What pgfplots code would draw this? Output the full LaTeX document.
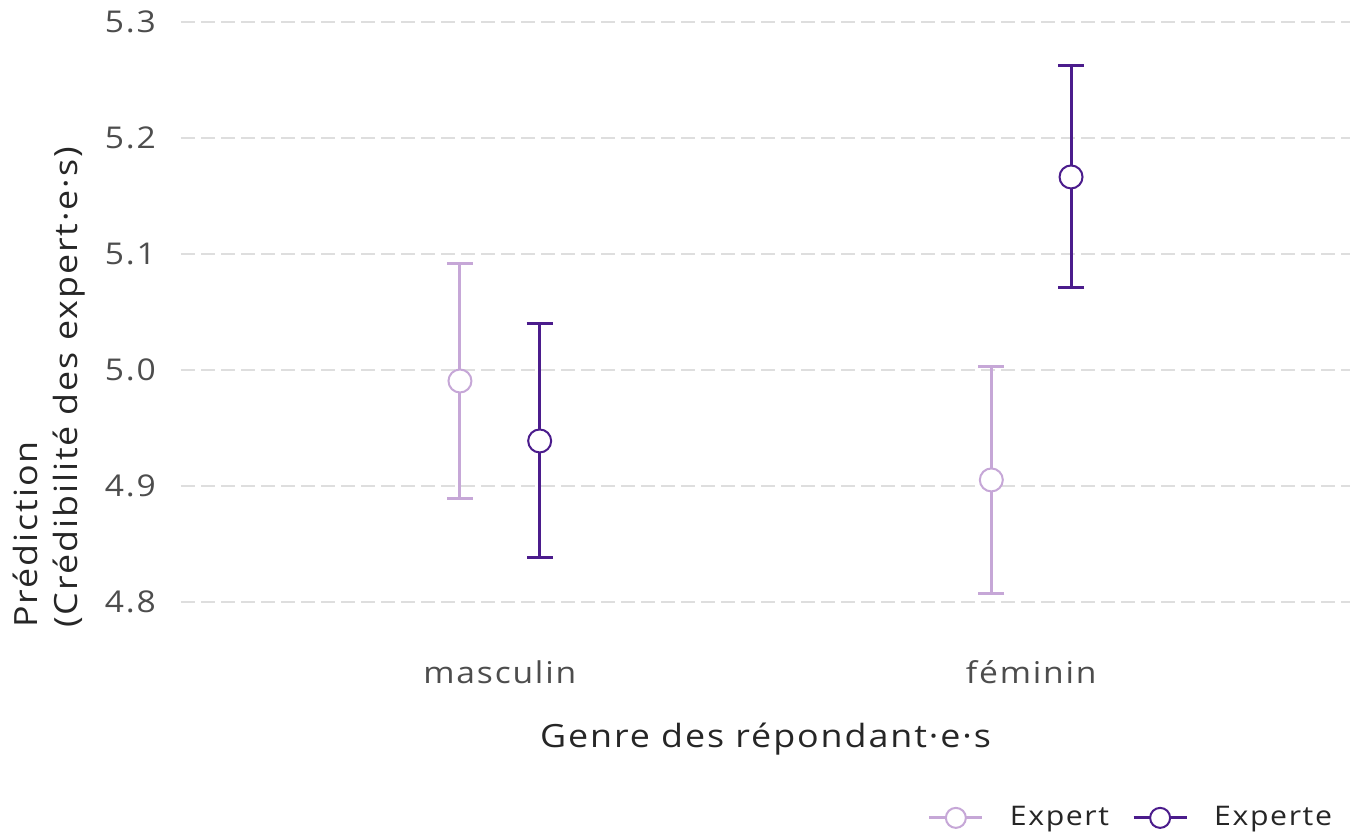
\documentclass[border=0pt]{standalone}
\usepackage{fontspec}
\setmainfont{Open Sans}[FakeStretch=1.12, LetterSpace=6]
\usepackage{pgfplots}
\pgfplotsset{compat=1.18}
\definecolor{cexpert}{RGB}{198,167,215}
\definecolor{cexperte}{RGB}{75,28,140}
\definecolor{ctick}{RGB}{77,77,77}
\definecolor{cgrid}{RGB}{222,222,222}
\begin{document}
\begin{tikzpicture}
\useasboundingbox (-90.5pt,-94.5pt) rectangle (587pt,322.5pt);
\begin{axis}[
  scale only axis,
  width=584.5pt, height=316.5pt,
  xmin=0.4, xmax=2.6,
  ymin=4.7629, ymax=5.3086,
  xtick={1,2}, xticklabels={masculin, féminin},
  ytick={4.8,4.9,5.0,5.1,5.2,5.3},
  yticklabels={4.8,4.9,5.0,5.1,5.2,5.3},
  axis line style={draw=none},
  tick style={draw=none},
  ymajorgrids,
  major grid style={cgrid, line width=1pt, dash pattern=on 7pt off 3pt},
  ticklabel style={font=\fontsize{15}{17}\selectfont, text=ctick},
  yticklabel style={anchor=east, xshift=-9pt},
  xticklabel style={anchor=base, yshift=-19.5pt},
  xlabel={Genre des répondant·e·s},
  xlabel style={font=\fontsize{16}{19}\selectfont, text=black!85, anchor=base, at={(rel axis cs:0.5,0)}, yshift=-51.5pt},
  legend style={draw=none, fill=none, inner sep=0pt, outer sep=0pt,
    nodes={inner sep=0pt, outer sep=0pt},
    font=\fontsize{13.5}{16}\selectfont, text=black!85,
    at={(rel axis cs:1,0)}, anchor=south east, yshift=-92pt, xshift=-9pt,
    legend columns=2,
    /tikz/every odd column/.append style={column sep=13pt},
    /tikz/every even column/.append style={column sep=11.5pt}},
  legend image code/.code={\draw[mark repeat=2,mark phase=2,#1] plot coordinates {(0pt,0pt) (13.25pt,0pt) (26.5pt,0pt)};},
  clip=false,
]
\addlegendimage{color=cexpert, line width=1.5pt, mark=*, mark size=5pt, mark options={fill=white, draw=cexpert, line width=1pt}}
\addlegendentry{Expert}
\addlegendimage{color=cexperte, line width=1.5pt, mark=*, mark size=5pt, mark options={fill=white, draw=cexperte, line width=1pt}}
\addlegendentry{Experte}
\addplot[forget plot, only marks, color=cexpert, line width=1.5pt, mark=*, mark size=5.75pt,
  mark options={fill=white, draw=cexpert, line width=1pt},
  error bars/.cd, y dir=both, y explicit, error mark=|,
  error mark options={mark size=6.5pt, line width=1.5pt, color=cexpert},
  error bar style={line width=1.5pt, color=cexpert}]
  coordinates {
    (0.925,4.9905) +- (0,0.1009)
    (1.925,4.9052) +- (0,0.0982)
  };
\addplot[forget plot, only marks, color=cexperte, line width=1.5pt, mark=*, mark size=5.75pt,
  mark options={fill=white, draw=cexperte, line width=1pt},
  error bars/.cd, y dir=both, y explicit, error mark=|,
  error mark options={mark size=6.5pt, line width=1.5pt, color=cexperte},
  error bar style={line width=1.5pt, color=cexperte}]
  coordinates {
    (1.075,4.9388) +- (0,0.1009)
    (2.075,5.1664) +- (0,0.0957)
  };
\end{axis}
\node[rotate=90, anchor=north west, align=left, inner sep=0pt, font=\fontsize{16}{20}\selectfont, text=black!85]
  at (-84pt,8.5pt) {Prédiction\\(Crédibilité des expert·e·s)};
\end{tikzpicture}
\end{document}
